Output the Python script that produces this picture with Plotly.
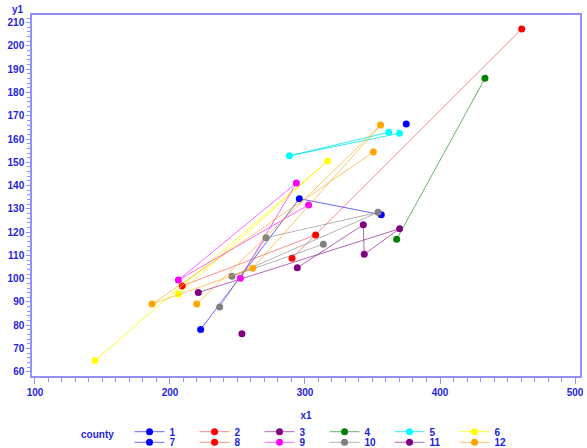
import plotly.graph_objects as go

# ---- data ----
counties = ["1", "2", "3", "4", "5", "6", "7", "8", "9", "10", "11", "12"]

x_c1 = [222.7, 295.8, 356.5]
y_c1 = [78.2, 134.4, 127.5]
x_c2 = [209.1, 307.9]
y_c2 = [96.9, 118.8]
x_c3 = [221.0, 370.1, 343.9, 343.2, 294.3]
y_c3 = [94.1, 121.5, 110.5, 123.2, 104.7]
x_c4 = [433.3, 367.9]
y_c4 = [186.1, 116.9]
x_c5 = [362.0, 288.4, 370.0]
y_c5 = [162.9, 152.8, 162.5]
x_c6 = [144.4, 316.8, 206.2]
y_c6 = [64.9, 150.6, 93.4]
x_c7 = [375.0]
y_c7 = [166.5]
x_c8 = [460.5, 290.4]
y_c8 = [207.3, 108.8]
x_c9 = [302.7, 206.2, 293.6, 252.1]
y_c9 = [131.7, 99.4, 141.1, 100.2]
x_c10 = [236.8, 271.1, 354.1, 245.9, 313.6]
y_c10 = [87.8, 117.6, 128.5, 101.1, 114.8]
x_c11 = [253.3]
y_c11 = [76.4]
x_c12 = [219.8, 356.0, 261.3, 186.7, 350.6]
y_c12 = [89.1, 166.0, 104.5, 89.1, 154.4]

xs = [x_c1, x_c2, x_c3, x_c4, x_c5, x_c6, x_c7, x_c8, x_c9, x_c10, x_c11, x_c12]
ys = [y_c1, y_c2, y_c3, y_c4, y_c5, y_c6, y_c7, y_c8, y_c9, y_c10, y_c11, y_c12]

colors = ["#0000ff", "#ff0000", "#800080", "#008000", "#00ffff", "#ffff00",
          "#0000ff", "#ff0000", "#ff00ff", "#808080", "#800080", "#ffa500"]
line_colors = ["rgba(0,0,255,0.6)", "rgba(255,0,0,0.45)", "rgba(128,0,128,0.6)",
               "rgba(0,128,0,0.6)", "rgba(0,230,230,0.8)", "rgba(250,250,0,0.8)",
               "rgba(0,0,255,0.6)", "rgba(255,0,0,0.45)", "rgba(255,0,255,0.6)",
               "rgba(128,128,128,0.6)", "rgba(128,0,128,0.6)", "rgba(255,165,0,0.6)"]

TXT = "#1f1fe0"
FRAME = "#9090ff"
FONT = dict(family="Liberation Sans, Arial, sans-serif", size=10, color=TXT, weight="bold")

fig = go.Figure()
for i, name in enumerate(counties):
    fig.add_trace(go.Scatter(
        x=xs[i], y=ys[i], mode="lines+markers", name=name,
        line=dict(color=line_colors[i], width=1),
        marker=dict(color=colors[i], size=7, line=dict(width=0)),
        legend="legend" if i < 6 else "legend2",
    ))

legend_common = dict(orientation="h", xanchor="left", yanchor="middle",
                     entrywidth=20, entrywidthmode="pixels", itemwidth=30,
                     bgcolor="rgba(0,0,0,0)", font=FONT)

fig.update_layout(
    width=587, height=448,
    margin=dict(l=32, r=7, t=15, b=72, autoexpand=False),
    paper_bgcolor="white", plot_bgcolor="white",
    font=FONT,
    showlegend=True,
    legend=dict(x=0.178, y=-0.1543, **legend_common),
    legend2=dict(x=0.178, y=-0.1837, **legend_common),
    xaxis=dict(range=[97.8, 503.7], tickvals=[100, 200, 300, 400, 500],
               ticks="outside", ticklen=6, tickcolor=FRAME, tickwidth=1,
               minor=dict(dtick=10, tick0=100, ticks="outside", ticklen=4, tickcolor=FRAME),
               showgrid=False, zeroline=False, showline=True, linecolor=FRAME, linewidth=1.5,
               mirror=True, tickfont=FONT,
               title=dict(text="x1", font=FONT, standoff=15)),
    yaxis=dict(range=[58.2, 213.3], dtick=10, tick0=60,
               ticks="outside", ticklen=4, tickcolor=FRAME, tickwidth=1,
               minor=dict(dtick=2, tick0=60, ticks="outside", ticklen=3, tickcolor=FRAME),
               showgrid=False, zeroline=False, showline=True, linecolor=FRAME, linewidth=1.5,
               mirror=True, tickfont=FONT),
    annotations=[
        dict(text="y1", xref="paper", yref="paper", x=-0.025, y=1.016,
             showarrow=False, font=FONT, xanchor="center", yanchor="middle"),
        dict(text="county", xref="paper", yref="paper", x=0.119, y=-0.1608,
             showarrow=False, font=FONT, xanchor="center", yanchor="middle"),
    ],
)

fig.write_html(
    "out.html",
    config={"displayModeBar": False},
    post_script="document.body.style.margin='0';document.body.style.overflow='hidden';",
)
